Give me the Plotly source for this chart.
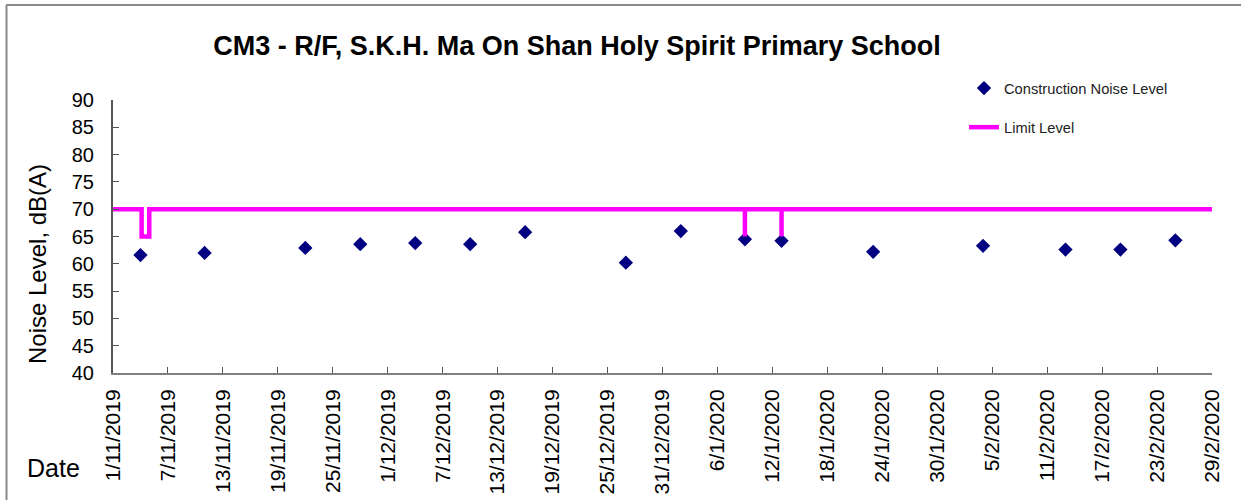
import plotly.graph_objects as go

# Data
noise_dates = ["2019-11-04", "2019-11-11", "2019-11-22", "2019-11-28", "2019-12-04",
               "2019-12-10", "2019-12-16", "2019-12-27", "2020-01-02", "2020-01-09",
               "2020-01-13", "2020-01-23", "2020-02-04", "2020-02-13", "2020-02-19",
               "2020-02-25"]
noise_levels = [61.6, 62.0, 62.9, 63.6, 63.8, 63.6, 65.8, 60.2, 66.0, 64.5,
                64.2, 62.2, 63.3, 62.6, 62.6, 64.3]

limit_dates = ["2019-11-01", "2019-11-04 03:00", "2019-11-04 03:00", "2019-11-04 23:00",
               "2019-11-04 23:00", "2020-01-09", "2020-01-09", "2020-01-09",
               "2020-01-13", "2020-01-13", "2020-01-13", "2020-02-29"]
limit_levels = [70, 70, 65, 65, 70, 70, 65, 70, 70, 65, 70, 70]

title_text = "CM3 - R/F, S.K.H. Ma On Shan Holy Spirit Primary School"
FONT = "Liberation Sans, Arial, sans-serif"

# Plot area in pixels
L, R, T, B = 113, 1212, 100, 373
W, H = 1241, 500


def px_x(p):
    return (p - L) / (R - L)


def px_y(p):
    return (B - p) / (B - T)


fig = go.Figure()
fig.add_trace(go.Scatter(
    x=noise_dates, y=noise_levels, mode="markers", name="Construction Noise Level",
    marker=dict(symbol="diamond", size=11, color="#000080"),
    legendgroup="a",
))
fig.add_trace(go.Scatter(
    x=limit_dates, y=limit_levels, mode="lines", name="Limit Level",
    line=dict(color="#FF00FF", width=4.5),
    legendgroup="b",
))

fig.update_layout(
    width=W, height=H,
    margin=dict(l=L, r=W - R, t=T, b=H - B, autoexpand=False),
    paper_bgcolor="white", plot_bgcolor="white",
    font=dict(family=FONT, color="black"),
    title=dict(text="<b>" + title_text + "</b>", x=px_x(577), xref="paper",
               xanchor="center", y=1 - 46 / H, yanchor="middle",
               font=dict(size=27, family=FONT, color="black")),
    showlegend=True,
    legend=dict(x=px_x(964), y=px_y(72), xanchor="left", yanchor="top",
                font=dict(size=14.7, family=FONT, color="#222"),
                tracegroupgap=17, bgcolor="rgba(0,0,0,0)"),
    xaxis=dict(
        type="date", range=["2019-11-01", "2020-02-29"],
        tick0="2019-11-01", dtick=6 * 86400000, tickformat="%-d/%-m/%Y",
        tickangle=-90, ticks="inside", ticklen=6, tickcolor="#555",
        showline=True, linecolor="#808080", linewidth=2, showgrid=False,
        zeroline=False, ticklabelstandoff=6, automargin=False,
        tickfont=dict(size=21, family=FONT, color="black"),
    ),
    yaxis=dict(
        range=[40, 90], tick0=40, dtick=5, ticks="inside", ticklen=6,
        tickcolor="#555", showline=True, linecolor="#555", linewidth=2,
        showgrid=False, zeroline=False, ticklabelstandoff=13, automargin=False,
        tickfont=dict(size=20, family=FONT, color="black"),
    ),
    annotations=[
        dict(text="Noise Level, dB(A)", x=px_x(37), y=px_y(264), xref="paper",
             yref="paper", textangle=-90, showarrow=False,
             font=dict(size=24, family=FONT, color="black"),
             xanchor="center", yanchor="middle"),
        dict(text="Date", x=px_x(53), y=px_y(468), xref="paper", yref="paper",
             showarrow=False, font=dict(size=25, family=FONT, color="black"),
             xanchor="center", yanchor="middle"),
    ],
    shapes=[
        dict(type="line", xref="paper", yref="paper", x0=px_x(6), x1=px_x(1241),
             y0=px_y(5), y1=px_y(5), line=dict(color="#8a8a8a", width=2)),
        dict(type="line", xref="paper", yref="paper", x0=px_x(6.5), x1=px_x(6.5),
             y0=px_y(5), y1=px_y(500), line=dict(color="#8a8a8a", width=2)),
    ],
)

fig.write_html("out.html", config={"displayModeBar": False},
               post_script="document.body.style.margin='0';document.body.style.overflow='hidden';")
